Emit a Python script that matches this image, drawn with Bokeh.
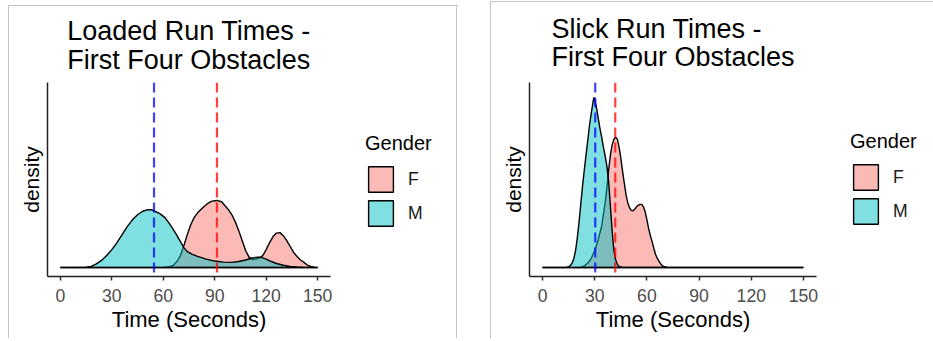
from bokeh.plotting import figure
from bokeh.models import Range1d, Span, Legend, LegendItem, FixedTicker
from bokeh.layouts import row
from bokeh.embed import file_html
from bokeh.resources import INLINE

# ---------------- data ----------------
time_ticks = [0, 30, 60, 90, 120, 150]
genders = ["F", "M"]
fill_colors = ["#F8766D", "#00BFC4"]

# Loaded run, first four obstacles: density estimates (time in seconds)
loaded_f_time = [0, 60, 64, 66, 68, 70, 72, 74, 76, 78, 80, 83, 86, 88, 91, 94, 96, 98, 100,
                 102, 104, 106, 108, 110, 112, 114, 116, 118, 120, 122, 124, 126, 128, 130,
                 132, 134, 136, 138, 140, 142, 144, 146, 148, 150]
loaded_f_dens = [0, 0, 0.0005, 0.0011, 0.0027, 0.0054, 0.0099, 0.0149, 0.0194, 0.0226, 0.0248,
                 0.0271, 0.0291, 0.0300, 0.0304, 0.0298, 0.0280, 0.0262, 0.0239, 0.0207, 0.0167,
                 0.0122, 0.0077, 0.0047, 0.0036, 0.0038, 0.0043, 0.0054, 0.0081, 0.0113, 0.0140,
                 0.0156, 0.0158, 0.0144, 0.0122, 0.0095, 0.0068, 0.0050, 0.0034, 0.0023, 0.0011,
                 0.0005, 0.0001, 0]
loaded_m_time = [0, 12, 15, 18, 21, 24, 27, 30, 33, 36, 39, 42, 45, 48, 51, 53, 55, 58, 61, 64,
                 67, 70, 72, 74, 77, 80, 85, 90, 95, 100, 104, 108, 112, 115, 117, 120, 123, 126,
                 130, 134, 138, 142, 145, 150]
loaded_m_dens = [0, 0, 0.0001, 0.0005, 0.0016, 0.0032, 0.0054, 0.0081, 0.0113, 0.0149, 0.0185,
                 0.0216, 0.0239, 0.0255, 0.0262, 0.0262, 0.0255, 0.0244, 0.0226, 0.0194, 0.0158,
                 0.0117, 0.0090, 0.0072, 0.0059, 0.0050, 0.0038, 0.0029, 0.0024, 0.0023, 0.0027,
                 0.0034, 0.0043, 0.0047, 0.0046, 0.0038, 0.0027, 0.0018, 0.0010, 0.0005, 0.0002,
                 0.0000, 0, 0]
loaded_means = [91.3, 54.6]   # F, M

# Slick run, first four obstacles
slick_f_time = [0, 20, 22, 24, 26, 28, 30, 32, 34, 36, 37, 38, 39, 40, 41, 42, 43, 44, 45, 46,
                47, 48, 49, 50, 51, 52, 53, 54, 55, 56, 57, 58, 59, 60, 61, 62, 63, 64, 65, 66,
                67, 68, 69, 70, 72, 150]
slick_f_dens = [0, 0, 0.0001, 0.0007, 0.0020, 0.0041, 0.0077, 0.0126, 0.0189, 0.0293, 0.0361,
                0.0442, 0.0510, 0.0555, 0.0582, 0.0591, 0.0582, 0.0546, 0.0496, 0.0437, 0.0383,
                0.0329, 0.0293, 0.0271, 0.0259, 0.0257, 0.0264, 0.0275, 0.0282, 0.0286, 0.0286,
                0.0275, 0.0253, 0.0216, 0.0176, 0.0144, 0.0117, 0.0086, 0.0059, 0.0041, 0.0027,
                0.0016, 0.0007, 0.0003, 0, 0]
slick_m_time = [0, 12, 14, 15, 16, 17, 18, 19, 20, 21, 22, 23, 24, 25, 26, 27, 28, 29, 29.5,
                30, 31, 32, 33, 34, 35, 36, 37, 38, 39, 40, 41, 42, 43, 44, 46, 150]
slick_m_dens = [0, 0, 0.0001, 0.0004, 0.0009, 0.0020, 0.0041, 0.0077, 0.0135, 0.0207, 0.0289,
                0.0370, 0.0442, 0.0510, 0.0577, 0.0645, 0.0699, 0.0749, 0.0771, 0.0762, 0.0726,
                0.0677, 0.0631, 0.0591, 0.0546, 0.0505, 0.0460, 0.0388, 0.0280, 0.0167, 0.0077,
                0.0036, 0.0014, 0.0005, 0, 0]
slick_means = [41.8, 30.3]    # F, M

FONT = "Liberation Sans"
H = 338
PATCH_STYLE = dict(fill_alpha=0.5, line_color="black", line_width=1.4)


def make_panel(title, f_t, f_d, m_t, m_d, means, border_left, border_top, frame_w, frame_h,
               title_standoff):
    p = figure(width=border_left + frame_w + 8, height=H, output_backend="svg",
               toolbar_location=None,
               x_range=Range1d(-7.5, 157.5), y_range=Range1d(-0.0041, 0.0839),
               min_border_left=border_left, min_border_right=8,
               min_border_top=border_top, min_border_bottom=H - border_top - frame_h,
               title=title)
    p.title.text_font = FONT
    p.title.text_font_size = "27px"
    p.title.text_font_style = "normal"
    p.title.text_color = "black"
    p.title.align = "center"
    p.title.text_line_height = 0.95
    p.title.standoff = title_standoff
    p.outline_line_color = None
    p.border_fill_alpha = 0
    p.background_fill_alpha = 0
    p.xgrid.visible = False
    p.ygrid.visible = False

    p.patch(f_t, f_d, fill_color=fill_colors[0], **PATCH_STYLE)
    p.patch(m_t, m_d, fill_color=fill_colors[1], **PATCH_STYLE)

    p.add_layout(Span(location=means[0], dimension="height", line_color="red",
                      line_alpha=0.75, line_width=2.2, line_dash="10 5"))
    p.add_layout(Span(location=means[1], dimension="height", line_color="blue",
                      line_alpha=0.75, line_width=2.2, line_dash="10 5"))

    xa = p.xaxis[0]
    xa.ticker = FixedTicker(ticks=time_ticks)
    xa.axis_label = "Time (Seconds)"
    xa.axis_label_text_font = FONT
    xa.axis_label_text_font_size = "22px"
    xa.axis_label_text_font_style = "normal"
    xa.axis_label_text_color = "black"
    xa.axis_label_standoff = 2
    xa.major_label_text_font = FONT
    xa.major_label_text_font_size = "17.6px"
    xa.major_label_text_color = "#4d4d4d"
    xa.major_label_standoff = 8
    xa.major_tick_out = 4
    xa.major_tick_in = 0
    xa.minor_tick_out = 0
    xa.minor_tick_in = 0
    xa.axis_line_width = 1.5
    xa.axis_line_color = "#222222"
    xa.major_tick_line_width = 1.5
    xa.major_tick_line_color = "#333333"

    ya = p.yaxis[0]
    ya.ticker = FixedTicker(ticks=[])
    ya.axis_label = "density"
    ya.axis_label_text_font = FONT
    ya.axis_label_text_font_size = "21px"
    ya.axis_label_text_font_style = "normal"
    ya.axis_label_text_color = "black"
    ya.axis_label_standoff = 5
    ya.major_tick_out = 0
    ya.major_tick_in = 0
    ya.minor_tick_out = 0
    ya.minor_tick_in = 0
    ya.axis_line_width = 1.5
    ya.axis_line_color = "#222222"
    return p


def make_legend_box(width, loc):
    q = figure(width=width, height=H, output_backend="svg", toolbar_location=None,
               x_axis_type=None, y_axis_type=None, x_range=Range1d(0, 1),
               y_range=Range1d(0, 1), min_border=0)
    q.outline_line_color = None
    q.border_fill_alpha = 0
    q.background_fill_alpha = 0
    q.xgrid.visible = False
    q.ygrid.visible = False
    # legend-only renderers (kept outside the visible range)
    rf = q.patch([5, 6, 6], [5, 5, 6], fill_color=fill_colors[0], **PATCH_STYLE)
    rm = q.patch([5, 6, 6], [5, 5, 6], fill_color=fill_colors[1], **PATCH_STYLE)
    legend = Legend(items=[LegendItem(label=genders[0], renderers=[rf]),
                           LegendItem(label=genders[1], renderers=[rm])],
                    title="Gender", location=loc)
    legend.title_text_font = FONT
    legend.title_text_font_size = "20px"
    legend.title_text_font_style = "normal"
    legend.title_text_color = "black"
    legend.title_standoff = 8
    legend.label_text_font = FONT
    legend.label_text_font_size = "17.6px"
    legend.label_text_color = "#1a1a1a"
    legend.glyph_width = 31
    legend.glyph_height = 32
    legend.label_height = 32
    legend.label_standoff = 12
    legend.spacing = 2
    legend.padding = 0
    legend.margin = 0
    legend.border_line_color = None
    legend.background_fill_alpha = 0
    q.add_layout(legend, "center")
    return q


p1 = make_panel("Loaded Run Times -\nFirst Four Obstacles",
                loaded_f_time, loaded_f_dens, loaded_m_time, loaded_m_dens, loaded_means,
                border_left=47, border_top=82, frame_w=283, frame_h=195, title_standoff=16)
l1 = make_legend_box(490 - p1.width, (27, 47))
p2 = make_panel("Slick Run Times -\nFirst Four Obstacles",
                slick_f_time, slick_f_dens, slick_m_time, slick_m_dens, slick_means,
                border_left=39, border_top=80, frame_w=287, frame_h=196, title_standoff=21)
l2 = make_legend_box(933 - 490 - p2.width, (26, 49))

g = "linear-gradient(#c4c4c4, #c4c4c4)"
panel_frames = {
    "background-color": "white",
    "background-image": ", ".join([g] * 5),
    "background-size": "1px 336px, 450px 1px, 1px 336px, 1px 340px, 443px 1px",
    "background-position": "8px 5px, 8px 5px, 456px 5px, 490px 1px, 490px 1px",
    "background-repeat": "no-repeat",
}
layout = row(p1, l1, p2, l2, spacing=0, styles=panel_frames)
open("out.html", "w").write(file_html(layout, INLINE))
